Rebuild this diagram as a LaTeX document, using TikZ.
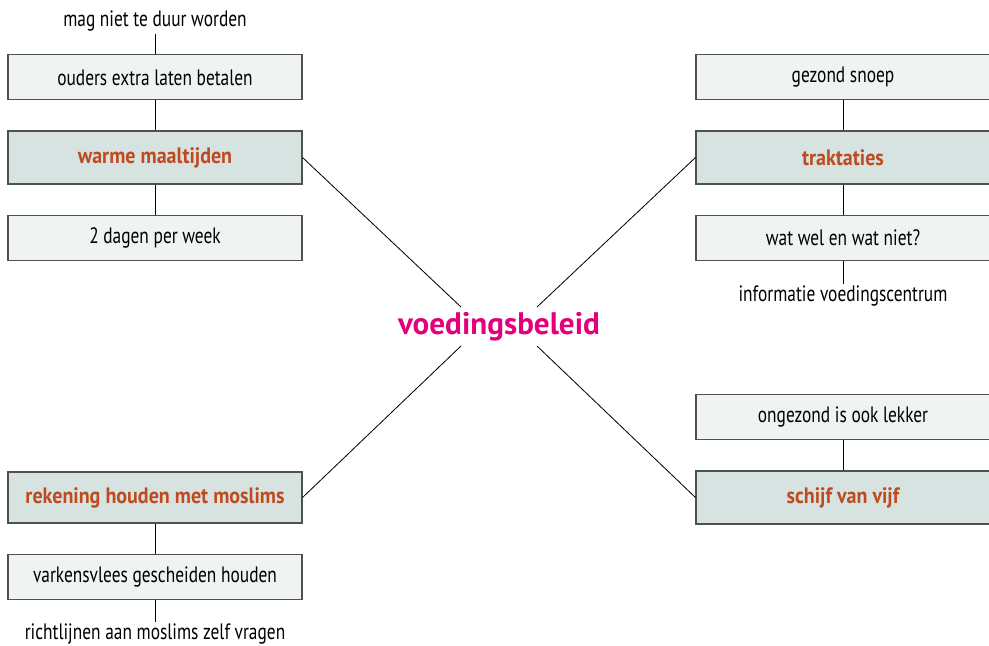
\documentclass[tikz,border=0pt]{standalone}
\usepackage{fontspec}
\setmainfont{PT Sans}[FakeStretch=0.78, BoldFeatures={FakeStretch=0.9}]
\newfontfamily\kernfont{PT Sans}
\usetikzlibrary{positioning}
\definecolor{themaorange}{RGB}{192,74,31}
\definecolor{beleidroze}{RGB}{227,0,122}
\definecolor{lichtgrijs}{RGB}{239,243,242}
\definecolor{grijsgroen}{RGB}{214,227,224}
\definecolor{randgrijs}{RGB}{80,80,80}

\begin{document}
\begin{tikzpicture}[x=0.03cm, y=-0.03cm,
  idee/.style={rectangle, draw=randgrijs, line width=0.9pt, fill=lichtgrijs, minimum width=8.82cm, minimum height=1.35cm, inner sep=0pt, font=\fontsize{19}{22}\selectfont},
  thema/.style={idee, fill=grijsgroen, minimum height=1.59cm, font=\fontsize{19}{22}\selectfont\bfseries, text=themaorange},
  los/.style={inner sep=2pt, font=\fontsize{19}{22}\selectfont},
  verbind/.style={draw=black, line width=0.7pt},
  node distance=0.9cm]
\useasboundingbox (0,0) rectangle (989,645);
% Center
\node[font=\kernfont\fontsize{26.6}{30}\selectfont\bfseries, text=beleidroze] (beleid) at (499,327) {voedingsbeleid};
\coordinate (lb) at (461,307);
\coordinate (rb) at (537,307);
\coordinate (lo) at (461,346);
\coordinate (ro) at (537,346);
% Left top
\node[thema] (warm) at (155,157.5) {warme maaltijden};
\node[idee, above=of warm] (ouders) {ouders extra laten betalen};
\node[los, above=0.62cm of ouders] (duur) {mag niet te duur worden};
\node[idee, below=of warm] (dagen) {2 dagen per week};
% Right top
\node[thema] (trakt) at (843,157.5) {traktaties};
\node[idee, above=of trakt] (snoep) {gezond snoep};
\node[idee, below=of trakt] (watwel) {wat wel en wat niet?};
\node[los, below=0.69cm of watwel] (info) {informatie voedingscentrum};
% Right bottom
\node[thema] (schijf) at (843,497.5) {schijf van vijf};
\node[idee, above=of schijf] (lekker) {ongezond is ook lekker};
% Left bottom
\node[thema, minimum height=1.53cm] (moslims) at (155,497.5) {rekening houden met moslims};
\node[idee, below=of moslims] (varkens) {varkensvlees gescheiden houden};
\node[los, below=0.66cm of varkens] (richt) {richtlijnen aan moslims zelf vragen};
% Vertical connectors
\draw[verbind] (duur)--(ouders);
\draw[verbind] (ouders)--(warm);
\draw[verbind] (warm)--(dagen);
\draw[verbind] (snoep)--(trakt);
\draw[verbind] (trakt)--(watwel);
\draw[verbind] (watwel)--(info);
\draw[verbind] (lekker)--(schijf);
\draw[verbind] (moslims)--(varkens);
\draw[verbind] (varkens)--(richt);
% Diagonals to the center
\draw[verbind] (warm.east)--(lb);
\draw[verbind] (trakt.west)--(rb);
\draw[verbind] (moslims.east)--(lo);
\draw[verbind] (schijf.west)--(ro);
\end{tikzpicture}
\end{document}
